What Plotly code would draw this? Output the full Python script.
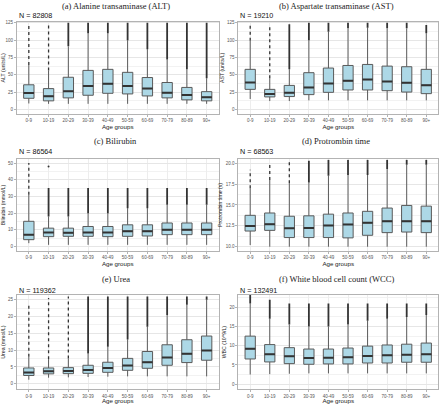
import plotly.graph_objects as go
from plotly.subplots import make_subplots

cats = ["0-9", "10-19", "20-29", "30-39", "40-49", "50-59", "60-69", "70-79", "80-89", "90+"]

# ALT
alt_q1 = [16, 12.3, 16.6, 20.4, 23.2, 22.3, 19.4, 16.6, 13.7, 12.3]
alt_med = [23.7, 19, 26, 33.6, 37, 33.6, 30, 24, 20.8, 17.5]
alt_q3 = [35.5, 30, 46.4, 56.3, 57.8, 53.5, 46, 38.8, 31.7, 25.6]
alt_lo = [8.5, 8, 8, 8, 8, 8, 8, 8, 8, 8]
alt_hi = [64, 56, 91, 110, 110, 100, 87, 72, 58, 45]
alt_out = [122, 125, 125, 125, 125, 125, 125, 125, 125, 125]
alt_sparse = ["0-9", "10-19"]
alt_n = 82808

# AST
ast_q1 = [28.9, 18, 18.5, 21.3, 24.6, 28, 28, 27, 25, 22.7]
ast_med = [38.8, 22.3, 24.1, 31.7, 37.4, 41.2, 43, 40.2, 38.4, 35]
ast_q3 = [57.8, 28.9, 34.6, 53, 59.7, 63.4, 64.9, 62.5, 61.6, 57.8]
ast_lo = [15, 12, 12, 13, 13, 13, 13, 13, 13, 13]
ast_hi = [99, 45, 58, 100, 112, 117, 118, 117, 117, 110]
ast_out = [122, 120, 123, 125, 125, 125, 125, 125, 125, 122]
ast_sparse = ["0-9", "10-19"]
ast_n = 19210

# Bilirubin
bil_q1 = [4.1, 5.9, 6.1, 6.1, 5.9, 6.1, 6.3, 7.1, 7.1, 7.1]
bil_med = [7.1, 8.4, 8.2, 8.4, 8.4, 9.2, 9.2, 10, 10, 10]
bil_q3 = [15.1, 11, 11, 12, 12, 13, 13, 14.1, 14.1, 14.1]
bil_lo = [2, 1, 1, 1, 1, 1, 1, 1, 1, 1]
bil_hi = [31, 18, 18, 20, 20, 23, 23, 25, 25, 25]
bil_out = [50, 35, 35, 35, 35, 35, 35, 35, 35, 35]
bil_sparse = ["0-9"]
bil_extra_x = ["10-19"]
bil_extra_y = [48]
bil_n = 86564

# Prothrombin time
pt_q1 = [11.88, 11.96, 11.1, 11.1, 11.1, 11.06, 11.37, 11.69, 11.76, 11.69]
pt_med = [12.47, 12.7, 12.2, 12.24, 12.55, 12.67, 12.86, 13.06, 13.06, 13.06]
pt_q3 = [13.76, 14.04, 13.65, 13.7, 13.9, 14.04, 14.24, 14.63, 14.94, 14.86]
pt_lo = [10.2, 10.0, 10.0, 10.0, 10.0, 10.0, 10.0, 10.0, 10.0, 10.0]
pt_hi = [17.0, 18.0, 17.6, 17.7, 18.5, 18.6, 18.6, 19.3, 19.8, 19.8]
pt_out = [19.2, 20.0, 20.3, 20.3, 20.4, 20.4, 20.4, 20.4, 20.4, 20.4]
pt_sparse = ["0-9", "10-19", "20-29"]
pt_n = 68563

# Urea
urea_q1 = [2.45, 2.94, 3.0, 3.1, 3.4, 4.0, 4.6, 5.5, 6.3, 7.0]
urea_med = [3.33, 3.7, 3.8, 4.1, 4.7, 5.4, 6.4, 7.8, 8.9, 9.9]
urea_q3 = [4.7, 4.7, 4.8, 5.5, 6.4, 7.55, 9.6, 11.6, 13.1, 14.2]
urea_lo = [1.2, 1.8, 1.9, 2.0, 2.1, 2.2, 2.2, 2.2, 2.2, 2.2]
urea_hi = [8, 7.3, 7.5, 9.0, 11, 13.2, 17, 20.5, 23.5, 25]
urea_out = [24, 25.5, 26, 26, 26, 26, 26, 26, 26, 26]
urea_sparse = ["0-9", "10-19", "20-29"]
urea_n = 119362

# WCC
wcc_q1 = [6.55, 5.78, 5.34, 5.17, 5.26, 5.26, 5.5, 5.5, 5.7, 5.7]
wcc_med = [9.2, 7.76, 7.24, 6.8, 6.9, 6.98, 7.33, 7.5, 7.67, 7.76]
wcc_q3 = [12.5, 10.3, 9.5, 9.14, 9.14, 9.4, 9.9, 10.2, 10.4, 10.7]
wcc_lo = [2.5, 2.6, 2.7, 2.8, 2.8, 2.8, 2.8, 2.8, 2.8, 2.8]
wcc_hi = [21, 17, 15.5, 15, 15, 15.5, 16.5, 17, 17.5, 18]
wcc_out = [23.2, 22, 21, 21, 21, 21, 21, 21, 21, 21]
wcc_sparse = []
wcc_n = 132491

panels = [
    dict(title="(a) Alanine transaminase (ALT)", ytitle="ALT (units/L)", q1=alt_q1, med=alt_med, q3=alt_q3,
         lo=alt_lo, hi=alt_hi, out=alt_out, sparse=alt_sparse, n=alt_n, rng=[-6.5, 126.5], dt=25, fmt=None),
    dict(title="(b) Aspartate transaminase (AST)", ytitle="AST (units/L)", q1=ast_q1, med=ast_med, q3=ast_q3,
         lo=ast_lo, hi=ast_hi, out=ast_out, sparse=ast_sparse, n=ast_n, rng=[-6.5, 126.5], dt=25, fmt=None),
    dict(title="(c) Bilirubin", ytitle="Bilirubin (mmol/L)", q1=bil_q1, med=bil_med, q3=bil_q3,
         lo=bil_lo, hi=bil_hi, out=bil_out, sparse=bil_sparse, n=bil_n, rng=[-2.4, 52.2], dt=10, fmt=None),
    dict(title="(d) Protrombin time", ytitle="Protrombin time (s)", q1=pt_q1, med=pt_med, q3=pt_q3,
         lo=pt_lo, hi=pt_hi, out=pt_out, sparse=pt_sparse, n=pt_n, rng=[9.55, 20.45], dt=2.5, fmt=".1f"),
    dict(title="(e) Urea", ytitle="Urea (mmol/L)", q1=urea_q1, med=urea_med, q3=urea_q3,
         lo=urea_lo, hi=urea_hi, out=urea_out, sparse=urea_sparse, n=urea_n, rng=[-1.6, 26.4], dt=5, fmt=None),
    dict(title="(f) White blood cell count (WCC)", ytitle="WBC (10^9/L)", q1=wcc_q1, med=wcc_med, q3=wcc_q3,
         lo=wcc_lo, hi=wcc_hi, out=wcc_out, sparse=wcc_sparse, n=wcc_n, rng=[-1.3, 23.2], dt=5, fmt=None),
]

W, H = 440, 404
xdoms = [[16 / W, 218 / W], [238 / W, 438 / W]]
rows_px = [(21, 114), (160, 252), (297, 392)]
title_px = [5, 141, 281]
n_px = [15, 152, 292]

fig = make_subplots(rows=3, cols=2)

FILL = "#ADD8E6"
EDGE = "#5a5a5a"
annotations = []

for i, p in enumerate(panels):
    r, c = i // 2 + 1, i % 2 + 1
    # outliers
    ox, oy, sx, sy = [], [], [], []
    for k, cat in enumerate(cats):
        if cat in p["sparse"]:
            sx += [cat, cat, None]
            sy += [p["hi"][k], p["out"][k], None]
        else:
            ox += [cat, cat, None]
            oy += [p["hi"][k], p["out"][k], None]
    fig.add_trace(go.Scatter(x=sx, y=sy, mode="lines", line=dict(color="#333333", width=1.3, dash="dot"),
                             hoverinfo="skip", showlegend=False), row=r, col=c)
    fig.add_trace(go.Scatter(x=ox, y=oy, mode="lines", line=dict(color="#333333", width=1.8),
                             hoverinfo="skip", showlegend=False), row=r, col=c)
    if i == 2:
        fig.add_trace(go.Scatter(x=bil_extra_x, y=bil_extra_y, mode="markers",
                                 marker=dict(color="#333333", size=2), hoverinfo="skip",
                                 showlegend=False), row=r, col=c)
    # boxes
    fig.add_trace(go.Box(x=cats, q1=p["q1"], median=p["med"], q3=p["q3"], lowerfence=p["lo"],
                         upperfence=p["hi"], fillcolor=FILL, line=dict(color=EDGE, width=1),
                         whiskerwidth=0, boxpoints=False, showlegend=False), row=r, col=c)
    # median emphasis
    fig.add_trace(go.Box(x=cats, q1=p["med"], median=p["med"], q3=p["med"], lowerfence=p["med"],
                         upperfence=p["med"], fillcolor="rgba(0,0,0,0)", line=dict(color="#333333", width=2),
                         whiskerwidth=0, boxpoints=False, showlegend=False), row=r, col=c)

    top, bot = rows_px[r - 1]
    fig.update_xaxes(domain=xdoms[c - 1], categoryorder="array", categoryarray=cats,
                     showline=True, mirror=True, linecolor="#B3B3B3", linewidth=1,
                     showgrid=True, gridcolor="#EDEDED", gridwidth=0.6,
                     ticks="outside", ticklen=2, tickcolor="#B3B3B3",
                     tickfont=dict(size=4.5, color="#555555"),
                     title=dict(text="Age groups", font=dict(size=6.2, color="#222222"), standoff=1),
                     range=[-0.6, 9.6], row=r, col=c)
    fig.update_yaxes(domain=[1 - bot / H, 1 - top / H], range=p["rng"], dtick=p["dt"], tick0=0,
                     tickformat=p["fmt"],
                     showline=True, mirror=True, linecolor="#B3B3B3", linewidth=1,
                     showgrid=True, gridcolor="#E6E6E6", gridwidth=0.6,
                     minor=dict(dtick=p["dt"] / 2, showgrid=True, gridcolor="#F2F2F2", gridwidth=0.5),
                     zeroline=False,
                     ticks="outside", ticklen=2, tickcolor="#B3B3B3",
                     tickfont=dict(size=4.5, color="#555555"),
                     title=dict(text=p["ytitle"], font=dict(size=5.2, color="#222222"), standoff=2),
                     row=r, col=c)
    colcenter = (xdoms[c - 1][0] + xdoms[c - 1][1]) / 2
    annotations.append(dict(text=p["title"], x=colcenter - 0.005, y=1 - title_px[r - 1] / H, xref="paper", yref="paper",
                            xanchor="center", yanchor="middle", showarrow=False,
                            font=dict(family="Liberation Serif, serif", size=8.5, color="#222222")))
    annotations.append(dict(text=f"N = {p['n']}", x=xdoms[c - 1][0], y=1 - n_px[r - 1] / H, xref="paper",
                            yref="paper", xanchor="left", yanchor="middle", showarrow=False,
                            font=dict(family="Liberation Sans, Arial, sans-serif", size=7.2, color="#111111")))

fig.update_layout(width=W, height=H, margin=dict(l=0, r=0, t=0, b=0), plot_bgcolor="white",
                  paper_bgcolor="white", boxmode="overlay", boxgap=0.25, annotations=annotations,
                  font=dict(family="Liberation Sans, Arial, sans-serif"), showlegend=False)

fig.write_html("out.html", config={"displayModeBar": False},
               post_script="document.body.style.margin='0';document.body.style.padding='0';document.body.style.overflow='hidden';")
